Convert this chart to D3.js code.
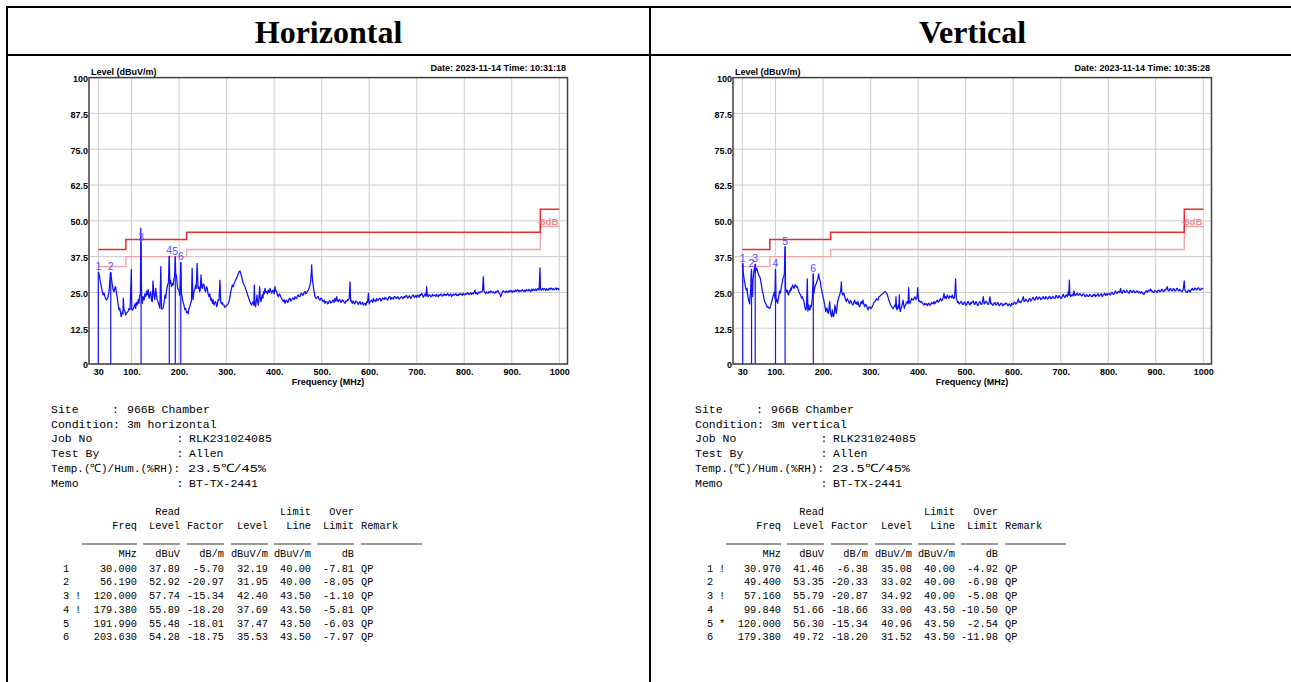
<!DOCTYPE html>
<html>
<head>
<meta charset="utf-8">
<script src="https://cdn.jsdelivr.net/npm/d3@7"></script>
<style>
  body { margin: 0; background: #fff; }
  svg { display: block; }
  .ax text { font-family: "Liberation Sans", Arial, sans-serif; font-size: 9px; font-weight: bold; fill: #000; }
  .lbl { font-family: "Liberation Sans", Arial, sans-serif; font-size: 9px; font-weight: bold; fill: #000; }
  .mono { font-family: "Liberation Mono", "DejaVu Sans Mono", monospace; fill: #000; }
</style>
</head>
<body>
<svg id="chart" width="1291" height="682"></svg>
<script>
// ---- data ----
const panelTitles = ["Horizontal", "Vertical"];
const dateLabels = ["Date: 2023-11-14  Time: 10:31:18", "Date: 2023-11-14  Time: 10:35:28"];
const conditions = ["3m horizontal", "3m vertical"];

const yTicks = [0, 12.5, 25, 37.5, 50, 62.5, 75, 87.5, 100];
const yTickLabels = ["0", "12.5", "25.0", "37.5", "50.0", "62.5", "75.0", "87.5", "100"];
const xTicks = [30, 100, 200, 300, 400, 500, 600, 700, 800, 900, 1000];
const xTickLabels = ["30", "100.", "200.", "300.", "400.", "500.", "600.", "700.", "800.", "900.", "1000"];

// FCC limit steps and -6dB margin line
const limitFreq = [30, 88, 216, 960, 1000];
const limitLevel = [40, 43.5, 46, 54];
const marginLevel = [34, 37.5, 40, 48];

// quasi-peak table: no, flag, freq, read level, factor, level, limit, over, remark
const hRows = [
  [1, "", 30.000, 37.89, -5.70, 32.19, 40.00, -7.81, "QP"],
  [2, "", 56.190, 52.92, -20.97, 31.95, 40.00, -8.05, "QP"],
  [3, "!", 120.000, 57.74, -15.34, 42.40, 43.50, -1.10, "QP"],
  [4, "!", 179.380, 55.89, -18.20, 37.69, 43.50, -5.81, "QP"],
  [5, "", 191.990, 55.48, -18.01, 37.47, 43.50, -6.03, "QP"],
  [6, "", 203.630, 54.28, -18.75, 35.53, 43.50, -7.97, "QP"]
];
const vRows = [
  [1, "!", 30.970, 41.46, -6.38, 35.08, 40.00, -4.92, "QP"],
  [2, "", 49.400, 53.35, -20.33, 33.02, 40.00, -6.98, "QP"],
  [3, "!", 57.160, 55.79, -20.87, 34.92, 40.00, -5.08, "QP"],
  [4, "", 99.840, 51.66, -18.66, 33.00, 43.50, -10.50, "QP"],
  [5, "*", 120.000, 56.30, -15.34, 40.96, 43.50, -2.54, "QP"],
  [6, "", 179.380, 49.72, -18.20, 31.52, 43.50, -11.98, "QP"]
];

// sweep trace [MHz, dBuV/m]
const hTrace = [[30,32.2],[32,31],[35,28.2],[37,26.5],[39.9,24.1],[42,24.8],[44.1,23.5],[46.9,22.3],[49.7,22.9],[52.5,25.2],[54,28.5],[55.3,31.7],[56.2,32],[57.5,30],[59.5,27.6],[61,26],[63,25.2],[64.5,26.5],[66.5,27],[68,25],[70,22.9],[72,20.5],[73.6,18.9],[75,19.5],[77.1,17.7],[78,16.5],[79,17],[80.6,18.3],[82,17.5],[82.6,23],[84.1,18.9],[86,18.5],[87.6,17.1],[89,17.8],[91.1,18],[93,18.5],[94.6,19.4],[96,19],[97,19.2],[99.5,33],[100.5,19],[102,18.8],[105.2,20],[107,21],[108.6,19.4],[110,21.5],[112.1,20.6],[114,22.5],[115.6,21.2],[117,24],[118.5,24],[119.5,47.4],[120.5,30],[121.5,22],[122.6,21.2],[124,23.5],[126.2,22.3],[128,24.5],[129.7,23.5],[131.5,25.5],[133.2,24.1],[135,26],[136.7,22.9],[138.5,24],[140.2,25.2],[142,22],[143.7,21.8],[145,29],[147.2,24.1],[149,22.5],[150.7,26.4],[152.5,24],[154.2,22.3],[156,21.5],[157.7,20.6],[159.5,19.5],[161.5,34],[163,19.2],[166.1,19.4],[168,21],[170.3,24.1],[172,23],[173.1,25.2],[175.9,27.6],[177.5,28.5],[179.4,37.7],[180.5,28],[182.2,29.3],[184,27],[185.7,28.1],[187.5,27.5],[189.2,29.9],[190.5,30.5],[192,37.5],[193,31],[194.2,31.1],[197,26.4],[199.8,25.8],[201.5,24],[203.6,35.5],[205,24.5],[206.8,22.9],[208.5,21.5],[210.3,20.6],[212,19],[213.8,19.4],[215.5,18],[217.3,18.3],[219,17.5],[220.8,19.4],[222.5,20],[224.3,21.2],[226,22],[227.5,33.4],[229,22.5],[231.3,25.2],[233,26],[234.9,27.6],[236,26.5],[238,35.1],[239.8,26.4],[241.5,27],[243.3,25.2],[244.5,26],[246.1,31.1],[247.5,27],[248.9,26.4],[250.5,28],[252.4,27.6],[254,26],[255.9,25.2],[257.5,27],[259.4,26.4],[261,24.5],[263,23.5],[264.5,24.5],[266.5,22.3],[268,23],[270,21.2],[271.5,22.5],[273.5,20.6],[275,21.5],[277,21.8],[279,20],[280.5,20.6],[282,22.5],[284,22.3],[286,29.3],[287.5,21.8],[289,21],[291,21.5],[292.5,20.6],[294.5,20.6],[296,19.8],[298,20],[300,20.5],[301.6,20.6],[303,21],[305.1,21.8],[307,23.5],[308.6,25.2],[310.5,26.5],[312.1,27.6],[314,27],[315.6,28.1],[317.6,28.7],[319.1,29.3],[321,30],[322.6,30.5],[324.6,31.7],[326.1,32.2],[328.1,32.5],[330,31.5],[331.6,30.5],[333,29.5],[335.1,28.2],[336.8,27.5],[338.6,27],[340.4,26],[342.1,25.3],[344,24.2],[345.6,23.5],[347.5,22.5],[349.1,21.8],[351,21],[352.7,20.6],[354.5,21.5],[356.2,21.8],[357.3,20.5],[358.3,27.6],[359.5,21],[361.1,20],[362.5,22],[363.9,24.1],[365.3,22],[366.7,20.6],[368,22.5],[369.5,27],[371,23],[372.3,21.8],[373.7,23],[375.1,24.1],[376.5,23],[377.9,25.3],[379.3,24.5],[380.7,26.4],[382.5,25],[384.3,25.3],[386,24.5],[387.8,25.8],[389.5,25],[391.3,26.4],[393,25.5],[394.8,24.7],[396.5,25.5],[398.3,25.8],[400,24.5],[401.8,27],[403.5,25.5],[405.3,25.3],[407,24],[408.8,23.5],[410.5,24.5],[412.3,24.1],[414,23.5],[415.8,22.9],[417.5,22.3],[419.3,21.8],[421,22.5],[422.8,21.2],[424.5,22],[426.4,22.3],[428,21.5],[429.9,21.8],[431.5,22.8],[433.4,22.9],[435,22],[436.9,22.3],[438.5,23],[440.4,22.9],[442,22.5],[443.9,23.5],[445.5,23],[447.4,22.9],[449,23.8],[450.9,24.1],[452.5,23.5],[454.4,23.5],[456,24.5],[457.9,24.7],[459.5,24],[461.4,24.1],[463,25],[464.9,25.3],[466.5,24.5],[468.4,24.7],[470,25.5],[471.9,25.8],[473.5,26.5],[475.4,27.6],[477,29],[479,34.6],[480,31],[481.1,28.7],[482.5,27],[483.9,25.3],[485,24.5],[486,23.5],[487.8,23],[489.5,22.9],[491.3,23.5],[493,23.5],[494.8,22.5],[496.5,22.3],[498.3,23],[500,22.9],[501.8,22],[503.5,21.8],[505.3,22.3],[507,21.2],[508.8,21.8],[510.6,21.8],[512.3,21],[514.1,21.2],[515.8,22],[517.6,22],[519.3,21.3],[521.1,21.5],[522.8,22.2],[524.6,22.3],[526.3,21.5],[528.1,22.9],[529.8,22],[531.6,23.5],[533.3,22],[535.1,21.8],[536.8,22.5],[538.6,22.3],[540.3,21.5],[542.1,21.8],[543.8,22.5],[545.6,22],[547.3,21.5],[549.1,21.2],[550.8,22],[552.7,21.8],[554.5,22.5],[556.2,22.3],[558,23],[559.7,28.7],[561,22],[561.8,22.3],[563.2,21.5],[564.6,21.2],[566,22],[567.4,21.8],[568.8,21],[570.2,21.2],[572,22],[573.7,21.8],[575.4,21.5],[577.2,20.8],[579,21.5],[580.7,21.8],[582.5,20.8],[584.2,21.2],[586,21.5],[587.8,20.6],[589.5,21],[591.3,21.2],[593,20.5],[594.8,21.8],[596.5,21.5],[598.3,24.7],[600,21],[601.8,21.8],[603.5,22],[605.3,22.3],[607,21.5],[608.8,22.9],[610.5,22],[612.3,22.3],[614,21.8],[615.8,22.9],[617.5,22.3],[619.3,22.3],[621,22.8],[622.8,22.9],[624.5,22],[626.3,22.3],[628,23],[629.8,22.9],[631.5,22.5],[633.3,23.3],[635,22.8],[636.8,22.9],[638.5,22.3],[640.4,22.9],[642,23.5],[643.9,23.5],[645.5,22.5],[647.4,23.2],[649,23],[650.9,22.7],[652.5,23.5],[654.4,23.5],[656,23],[657.9,22.9],[659.5,23.5],[661.4,23.3],[663,22.6],[664.9,22.9],[666.5,23.4],[668.4,23.5],[670,23],[671.9,22.9],[673.5,23.6],[675.4,23.3],[677,23.8],[679,23.9],[680.5,23],[682.4,23.2],[684,23.8],[686,23.5],[687.5,22.9],[689.4,23.5],[691,24],[693,24.1],[694.5,23.2],[696.4,23.5],[698,23.9],[700,23.2],[701.5,24],[703.4,23.9],[705,23.3],[707,24.3],[708.5,23.9],[710.4,24.7],[712.4,24.1],[714.1,23.3],[716,23.9],[717.6,24.5],[719.5,23.6],[720.8,27],[722.5,24],[724,23.5],[726,24.2],[727.9,24.1],[729.5,23.6],[731.4,23.5],[733,24.3],[735,23.8],[736.8,24],[738.4,24.1],[740,23.6],[741.9,24.3],[743.5,23.8],[745.4,23.5],[747,24.2],[749,23.9],[750.5,24.4],[752.4,24.3],[754,23.7],[756,24],[757.6,24.5],[759.4,23.9],[761,24.3],[763,24],[764.6,24.6],[766.4,24.3],[768,23.8],[770,24.2],[771.6,24.5],[773.4,23.5],[775,24],[777,24.4],[778.7,24],[780.5,24.3],[782,24.6],[784,23.9],[785.7,24.2],[787.5,23.9],[789,24.5],[791,24.2],[792.7,24.6],[794.5,24.3],[796,24],[798,24.7],[799.8,24.2],[801.5,24.1],[803,24.6],[805,24.3],[806.8,24.9],[808.5,24.7],[810,24.2],[812,24.5],[813.8,24.9],[815.5,24.3],[817,24.8],[819,24.5],[820.8,25],[822.5,25.8],[824,24.6],[826,24.9],[827.8,24.3],[829.5,24.7],[831,25.2],[833,24.8],[834.8,25.3],[836.6,25.3],[838.5,25.6],[840.1,30.5],[841.5,25.5],[843.6,25],[845,24.6],[847,25.2],[848.8,24.8],[850.6,24.7],[852,25.3],[854,24.9],[855.8,25.5],[857.6,25.3],[859,24.8],[861,25.2],[862.8,24.9],[864.6,24.7],[866,25.3],[868,25],[869.8,25.6],[871.6,25.5],[873,24.8],[875,24.6],[876.5,23.5],[878.6,24.3],[880,25],[882,25.6],[883.8,25.2],[885.7,25.3],[887,24.9],[889,25.5],[890.8,25.2],[892.7,25],[894,25.6],[896,25.2],[898,25.7],[899.7,25.5],[901,25],[903,25.6],[905,25.3],[906.7,25.3],[908,25.8],[910,25.4],[912,25.9],[913.7,25.8],[915,25.2],[917,25.7],[919,25.4],[920.7,25.5],[922,26],[924,25.6],[926,25.2],[927.7,25.8],[929,25.4],[931,26],[933,25.6],[934.7,25.5],[936,26.1],[938,25.7],[940,25.3],[941.8,26.1],[943,25.6],[945,26.2],[947,25.8],[948.8,25.7],[950,26.2],[952,25.6],[954,26.3],[955.8,26.2],[957.5,25.8],[959.3,33.6],[960.5,26],[962.8,25.8],[964.5,26.4],[966.5,25.9],[968,26.3],[969.8,26.2],[971.5,25.7],[973.5,26.3],[975,25.9],[976.8,25.8],[978.5,26.4],[980.5,26],[982,26.5],[983.8,26.4],[985.5,25.9],[987.5,26.3],[989,26],[990.8,26.1],[992.5,26.6],[994.5,26],[996,26.4],[997.9,26.4],[1000,25.8]];

const vTrace = [[30,34],[31,35.1],[31.5,32.8],[33.6,29.9],[35,28.5],[35.7,28.1],[37,26.5],[38.5,25.8],[40,26.5],[41.3,24.1],[43,22.5],[44.1,21.8],[45.5,21],[46.2,23.5],[47.5,25],[48.5,31],[49.4,33],[50.4,25.2],[51.5,23.5],[52.5,29.3],[54,31.5],[55.3,33.4],[56.3,32],[57.2,34.9],[58.5,33.5],[59.5,32.8],[61,33.3],[62.3,32.2],[63.5,31.5],[65.1,31],[66.5,30.5],[67.9,29.9],[69.3,28.5],[70.7,27],[72,25.5],[73.6,24.7],[75.5,23],[77.1,21.8],[79,21.2],[80.6,20.6],[82.3,19.8],[84.1,20],[86,19.5],[87.6,19.4],[89.5,20.2],[91.1,21.2],[93,22.5],[94.6,23.5],[96,24.3],[97.4,25.2],[98.7,23],[99.8,33],[100.8,24],[101.6,21.8],[103,22.5],[104.4,21.2],[106,23],[107.2,24.1],[108.5,25.5],[110,24.7],[111.5,26],[112.8,27.6],[114.2,28.5],[115.6,29.9],[117,30.5],[118.5,31.5],[120,41],[121,26.5],[122.6,25.2],[124.7,25.8],[126,24.5],[127.5,24.1],[129,25.5],[130.4,25.2],[132,26.5],[133.2,25.8],[134.5,27],[136,27.6],[137.5,26.8],[138.8,26.4],[140.5,27.5],[142.3,27.6],[144,26.8],[145.8,27],[147.5,26],[149.3,25.2],[151,24.5],[152.8,24.1],[154.5,23],[156.3,23.5],[158,22.5],[159.8,21.8],[161.5,20],[163.3,18.9],[165,19.5],[166.8,29.7],[168,18.5],[169.7,20.6],[171,19],[172.5,18.9],[174,20.5],[175.3,20],[177.4,22.9],[179.4,31.5],[180.5,24.5],[182.2,26.4],[184,27.5],[185.7,28.1],[187.5,29],[189.2,29.9],[190.5,31.5],[192,30],[194.2,28.7],[195.5,27],[197,25.8],[198.5,24.5],[199.8,23.5],[201.2,22.5],[202.7,21.2],[204,20],[205.5,18.3],[207,19.5],[208.3,19.4],[209.7,18],[211.1,17.7],[212.5,19.5],[213.8,21.8],[215.2,18.5],[216.6,17.1],[218,16.5],[219.4,18.9],[220.8,17],[222.2,16.5],[223.6,18],[225.1,20.6],[226.5,19],[227.8,17.7],[229.2,19.5],[230.6,21.8],[232,22.5],[233.4,23.5],[234.8,24],[236.3,25.2],[237.3,26],[238.4,28.7],[239.5,25],[240.5,24.5],[241.9,24.1],[243.5,24.8],[245.4,23.5],[247,22.5],[248.9,21.8],[250.5,22.8],[252.4,22.3],[254,21.5],[255.9,21.2],[257.5,22.2],[259.4,21.8],[261,21],[263,20.6],[264.5,21.5],[266.5,22.3],[268,21.2],[270,21.5],[271.5,20.8],[273.5,21.8],[275,20.5],[277,20],[278.5,21],[280.5,21.8],[282,21],[284,22.3],[285.5,21],[287.5,20],[289,20.8],[291,20.6],[292.5,19.8],[294.5,18.9],[296,19.8],[298,20],[299.5,19.5],[301.6,19.4],[303.5,20.2],[305.1,20.6],[307,21.5],[308.6,21.8],[310.5,22],[312.1,22.8],[314,22.5],[315.6,22.3],[317.5,23.5],[319.1,23.5],[321,24],[322.6,24.1],[324.5,24.6],[326.1,24.7],[328,25],[330.2,25.3],[332,25],[333.7,24.7],[335.5,24],[337.3,22.9],[339,22],[340.8,21.2],[342.5,20.5],[344.3,20],[346,19.5],[347.8,19.4],[349.5,20],[351.3,20.6],[352.4,20],[353.4,23.5],[354.5,19.5],[355.5,18.9],[357,19.8],[358.3,20.6],[359.5,19.5],[360.4,24.1],[361.5,19],[362.5,18.3],[364,19.5],[365.3,20],[366.7,21],[368.1,22.3],[369.5,21],[370.9,19.4],[372.3,20.2],[373.7,20.6],[375.5,21.5],[377.2,21.8],[378.8,21],[380,26.7],[381.4,21.5],[382.8,21.2],[384.5,22],[386.3,22.9],[388,22.5],[389.9,22.3],[391.6,23],[393.4,23.5],[395.2,22.5],[396.9,22.9],[398,23.5],[399,26.7],[400.4,23],[401.8,21.8],[403.5,22],[405.3,21.5],[407,21.8],[408.8,21.2],[410.5,21],[412.3,20.6],[414,21.2],[415.8,20.8],[417.5,21],[419.3,20.4],[421,21],[422.8,21.2],[424.5,20.5],[426.3,20.6],[428,21.5],[429.8,21.2],[431.5,21],[433.3,21.8],[435,21],[436.8,21.5],[438.5,22],[440.3,22.3],[442,21.5],[443.8,21.8],[445.5,22.5],[447.4,22.9],[449,22],[450.9,22.3],[452.5,23],[454.4,24.7],[456,23],[457.9,23.5],[459.5,22.8],[461.4,24.1],[463,23.5],[464.9,22.9],[466.5,23.8],[468.4,23.5],[470,23.2],[471.9,24.1],[473.5,23],[475.4,22.9],[477,24],[478.9,29.7],[480.2,23],[481.7,22.3],[483,21.5],[484.5,21.8],[486.2,21],[488,21.2],[489.8,21.8],[491.5,21.8],[493.2,20.8],[495,20.8],[496.8,21.6],[498.6,21.5],[500.3,20.5],[502.1,20.8],[503.8,21.6],[505.6,21.8],[507.3,21],[509.1,20.6],[510.8,21.5],[512.6,21.2],[514.3,21.9],[516.1,22],[517.8,21],[519.6,20.8],[521.3,21.8],[523.1,21.5],[524.8,20.5],[526.6,20.6],[528.3,21.5],[530.1,21.8],[531.8,20.9],[533.6,20.8],[535.3,21.8],[537.1,23.5],[538.8,21],[540.6,21.2],[542.3,21.9],[544.1,21.8],[545.8,21],[547.6,20.8],[549.3,21.5],[551.1,23.5],[552.8,21],[554.7,21.2],[556.4,20.5],[558.2,20.6],[560,21.3],[561.7,21.5],[563.4,20.6],[565.2,20.8],[567,21.5],[568.7,21.2],[570.4,20.3],[572.2,20.6],[574,21.2],[575.7,21.2],[577.4,20.4],[579.2,20.4],[581,21],[582.7,20.8],[584.4,21.3],[586.2,21.2],[588,20.5],[589.7,20.4],[591.4,21],[593.2,20.8],[595,20.2],[596.7,21.2],[598.5,20.9],[600.2,20.8],[602,21.6],[603.7,21.5],[605.5,20.9],[607.3,21.2],[609,21.8],[610.8,22.7],[612.5,21.5],[614.3,21.8],[616,21.4],[617.8,22],[619.5,22.5],[621.3,23.5],[623,21.8],[624.8,22],[626.5,22.6],[628.3,22.3],[630,21.8],[631.8,21.8],[633.5,22.7],[635.3,22.9],[637,22],[638.8,22.3],[640.5,23],[642.3,23.2],[644,22.4],[645.8,22.3],[647.5,23.2],[649.3,23.5],[651,22.6],[652.8,22.7],[654.5,23.4],[656.3,23.2],[658,22.5],[659.9,22.6],[661.5,23.3],[663.4,23.5],[665,22.8],[666.9,22.7],[668.5,23.5],[670.4,23.2],[672,22.7],[673.9,22.9],[675.5,23.6],[677.4,23.5],[679,22.8],[680.9,22.9],[682.5,23.6],[684.4,23.4],[686,23],[687.9,22.9],[689.5,23.8],[691.4,23.9],[693,23.1],[694.9,23.2],[696.5,23.9],[698.4,23.5],[700,23],[701.9,22.9],[703.5,23.8],[705.4,24.3],[707,23.5],[708.9,23.2],[710.5,24],[712.4,24.1],[714,23.5],[716,25.3],[717.2,24],[718.1,29.3],[719.2,24.5],[720.9,23.5],[722.5,24],[724.4,24.3],[726,23.8],[727.9,25.5],[729.5,24],[731.4,23.9],[733,24.5],[734.9,24.7],[736.5,24],[738.4,24.1],[740,24.6],[741.9,24.3],[743.5,23.8],[745.4,23.9],[747,24.5],[748.9,24.3],[750.5,23.7],[752.4,23.5],[754,24.2],[755.9,24.1],[757.5,23.6],[759.4,23.7],[761,24.3],[762.9,24.1],[764.5,23.6],[766.5,23.5],[768,24.2],[770,23.9],[771.5,24.4],[773.5,23.5],[775,23.9],[777,24.1],[778.5,24.6],[780.5,23.6],[782,24],[784,24.1],[785.5,24.6],[787.5,23.5],[789,24],[791,24.3],[792.5,24.7],[794.5,23.9],[796,24.5],[798,24.1],[799.5,24.6],[801.5,24.7],[803,24.2],[805,24.1],[806.5,25],[808.5,25],[810,24.4],[812,24.3],[813.5,25.1],[815.5,25.5],[817,24.8],[819,24.6],[820.5,25.3],[822.6,25.3],[824,24.9],[826.1,26.4],[827.5,25],[829.6,24.7],[831,25.4],[833.1,25.8],[834.5,25],[836.6,25],[838.5,25.6],[840.1,25.5],[842,24.9],[843.6,24.7],[845,25.4],[847.1,25.8],[848.5,25.1],[850.6,25],[852,25.6],[854.1,25.5],[855.5,24.9],[857.6,25],[859.5,25.5],[861.1,25.5],[863,24.9],[864.6,25.3],[866.5,25],[868.1,24.7],[870,25.3],[871.6,25],[873.5,24.5],[875.1,24.3],[877,25],[878.6,25.3],[880.5,25.6],[882.2,25],[884,25.5],[885.7,25.8],[887.5,25.5],[889.2,26.2],[891,25.4],[892.7,25.5],[894.5,25],[896.2,25],[898,25.7],[899.7,25.5],[901.5,25.2],[903.2,25],[905,25.8],[906.7,25.8],[908.5,25.2],[910.2,25.3],[912,26],[913.7,26.1],[915.5,25.4],[917.2,25.3],[919,25.9],[920.7,25.8],[922.5,26.4],[924.2,27],[926,25.6],[927.7,25.5],[929.5,26.2],[931.2,26.4],[933,25.6],[934.7,25.5],[936.5,26.3],[938.3,26.2],[940,25.5],[941.8,25.5],[943.5,26.3],[945.3,26.4],[947,25.7],[948.8,25.5],[950.5,26.1],[952.3,25.8],[954,25.3],[955.8,25.3],[957.5,25.9],[960,29],[961.2,25.8],[962.8,25.5],[964.5,25],[966.3,25],[968,25.7],[969.8,25.8],[971.5,25.2],[973.3,25.3],[975,26.1],[976.8,26.4],[978.5,25.8],[980.3,25.8],[982,26.5],[983.8,26.4],[985.5,25.8],[987.3,26.1],[989,26.6],[990.9,26.4],[992.5,25.8],[994.4,25.8],[996,26.5],[998,26.2],[1000,26.2]];

const infoSite = "966B Chamber";
const infoJob = "RLK231024085";
const infoTester = "Allen";
const infoTemp = "23.5\u2103/45%";
const infoMemo = "BT-TX-2441";

const tableHead1 = ["", "Read", "", "", "Limit", "Over"];
const tableHead2 = ["Freq", "Level", "Factor", "Level", "Line", "Limit"];
const tableUnits = ["MHz", "dBuV", "dB/m", "dBuV/m", "dBuV/m", "dB"];

// ---- drawing ----
const svg = d3.select("#chart");
const W = 1291, H = 682;

// outer table lines
const border = svg.append("g").attr("stroke", "#000").attr("stroke-width", 2);
border.append("line").attr("x1", 7).attr("x2", W).attr("y1", 7).attr("y2", 7);
border.append("line").attr("x1", 7).attr("x2", W).attr("y1", 55).attr("y2", 55);
border.append("line").attr("x1", 7).attr("x2", 7).attr("y1", 6).attr("y2", H);
border.append("line").attr("x1", 650).attr("x2", 650).attr("y1", 6).attr("y2", H);

const x = d3.scaleLinear().domain([30, 1000]).range([98.3, 559.3]);
const y = d3.scaleLinear().domain([0, 100]).range([364, 77.6]);
const frameL = 89, frameR = 567.5;

function fmt(v, d) { return v.toFixed(d); }

function drawPanel(i, trace, rows) {
  const g = svg.append("g").attr("transform", `translate(${i * 644},0)`);

  g.append("text").attr("x", 328.5).attr("y", 43).attr("text-anchor", "middle")
    .style("font-family", "'Liberation Serif', 'Times New Roman', serif")
    .style("font-size", "32px").style("font-weight", "bold").text(panelTitles[i]);

  // grid
  const grid = g.append("g").attr("stroke", "#cccccc").attr("stroke-width", 1);
  grid.selectAll(".gy").data(yTicks).join("line")
    .attr("x1", frameL).attr("x2", frameR).attr("y1", d => y(d)).attr("y2", d => y(d));
  grid.selectAll(".gx").data(xTicks).join("line")
    .attr("x1", d => x(d)).attr("x2", d => x(d)).attr("y1", y(100)).attr("y2", y(0));

  // limit and margin step lines
  const step = levels => {
    const pts = [];
    levels.forEach((v, k) => { pts.push([limitFreq[k], v]); pts.push([limitFreq[k + 1], v]); });
    return pts;
  };
  const line = d3.line().x(d => x(d[0])).y(d => y(d[1]));
  g.append("path").attr("d", line(step(marginLevel))).attr("fill", "none")
    .attr("stroke", "#f4a4a4").attr("stroke-width", 1.4);
  g.append("path").attr("d", line(step(limitLevel))).attr("fill", "none")
    .attr("stroke", "#ee2a2a").attr("stroke-width", 1.5);
  g.append("text").attr("x", x(1000) - 1).attr("y", y(49.8)).attr("dy", "0.35em")
    .attr("text-anchor", "end").style("font-family", "'Liberation Sans', Arial, sans-serif")
    .style("font-size", "9.5px").style("font-weight", "bold").attr("fill", "#f08a8a").text("-6dB");

  // trace
  g.append("path").attr("d", line(trace)).attr("fill", "none")
    .attr("stroke", "#1010ff").attr("stroke-width", 1.25).attr("stroke-linejoin", "round");

  // markers
  g.selectAll(".mk").data(rows).join("line")
    .attr("x1", d => x(d[2])).attr("x2", d => x(d[2]))
    .attr("y1", y(0)).attr("y2", d => y(d[5]))
    .attr("stroke", "#1414ff").attr("stroke-width", 1.2);
  g.selectAll(".mt").data(rows).join("text")
    .attr("x", d => x(d[2])).attr("y", d => y(d[5]) - 2)
    .attr("text-anchor", "middle")
    .style("font-family", "'Liberation Sans', Arial, sans-serif").style("font-size", "10.5px")
    .attr("fill", "#5050ff").text(d => d[0]);

  // frame
  g.append("rect").attr("x", frameL).attr("y", y(100)).attr("width", frameR - frameL)
    .attr("height", y(0) - y(100)).attr("fill", "none").attr("stroke", "#404040").attr("stroke-width", 1.5);

  // axes
  g.append("g").attr("class", "ax").attr("transform", `translate(${frameL},0)`)
    .call(d3.axisLeft(y).tickValues(yTicks).tickFormat((d, k) => yTickLabels[k]).tickSize(0).tickPadding(1))
    .call(a => a.select(".domain").remove())
    .call(a => a.selectAll("text").attr("transform", "translate(0,1)"));
  g.append("g").attr("class", "ax").attr("transform", `translate(0,${y(0)})`)
    .call(d3.axisBottom(x).tickValues(xTicks).tickFormat((d, k) => xTickLabels[k]).tickSize(0).tickPadding(5))
    .call(a => a.select(".domain").remove());

  g.append("text").attr("class", "lbl").attr("x", 328).attr("y", 384.5)
    .attr("text-anchor", "middle").text("Frequency (MHz)");
  g.append("text").attr("class", "lbl").attr("x", 91).attr("y", 74.5).text("Level (dBuV/m)");
  g.append("text").attr("class", "lbl").attr("x", 566).attr("y", 70.5)
    .attr("text-anchor", "end").text(dateLabels[i]);

  // info block
  const info = g.append("g").attr("class", "mono").style("font-size", "11.5px");
  const iy = [409.3, 423.5, 438.3, 453.2, 467.8, 482.6];
  const put = (tx, xx, yy) => info.append("text").attr("x", xx).attr("y", yy).attr("dy", "0.35em")
    .attr("xml:space", "preserve").text(tx);
  put("Site", 51, iy[0]); put(":", 112, iy[0]); put(infoSite, 127, iy[0]);
  put("Condition: " + conditions[i], 51, iy[1]);
  put("Job No", 51, iy[2]); put(":", 176.5, iy[2]); put(infoJob, 189, iy[2]);
  put("Test By", 51, iy[3]); put(":", 176.5, iy[3]); put(infoTester, 189, iy[3]);
  put("Temp.(\u2103)/Hum.(%RH):", 51, iy[4]).attr("textLength", 129).attr("lengthAdjust", "spacingAndGlyphs");
  put(infoTemp, 188, iy[4]).attr("textLength", 78).attr("lengthAdjust", "spacingAndGlyphs");
  put("Memo", 51, iy[5]); put(":", 176.5, iy[5]); put(infoMemo, 189, iy[5]);

  // result table
  const tb = g.append("g").attr("class", "mono").style("font-size", "10.3px");
  const colR = [137, 180, 224, 268, 311, 354];
  const segL = [82, 143, 187, 231, 274, 317, 361];
  const segR = [137, 180, 224, 268, 311, 354, 422];
  const cell = (tx, xx, yy, anchor) => tb.append("text").attr("x", xx).attr("y", yy)
    .attr("dy", "0.35em").attr("text-anchor", anchor).text(tx);
  tableHead1.forEach((t, k) => { if (t) cell(t, colR[k], 511.7, "end"); });
  tableHead2.forEach((t, k) => cell(t, colR[k], 525.4, "end"));
  cell("Remark", 361, 525.4, "start");
  tableUnits.forEach((t, k) => cell(t, colR[k], 553.3, "end"));
  tb.selectAll(".ul").data(segL).join("line")
    .attr("x1", d => d).attr("x2", (d, k) => segR[k]).attr("y1", 544).attr("y2", 544)
    .attr("stroke", "#777").attr("stroke-width", 1.4);
  rows.forEach((r, k) => {
    const yy = 568 + k * 13.75;
    cell(String(r[0]), 66, yy, "middle");
    if (r[1]) cell(r[1], 78, yy, "middle");
    cell(fmt(r[2], 3), colR[0], yy, "end");
    cell(fmt(r[3], 2), colR[1], yy, "end");
    cell(fmt(r[4], 2), colR[2], yy, "end");
    cell(fmt(r[5], 2), colR[3], yy, "end");
    cell(fmt(r[6], 2), colR[4], yy, "end");
    cell(fmt(r[7], 2), colR[5], yy, "end");
    cell(r[8], 361, yy, "start");
  });
}

drawPanel(0, hTrace, hRows);
drawPanel(1, vTrace, vRows);
</script>
</body>
</html>
